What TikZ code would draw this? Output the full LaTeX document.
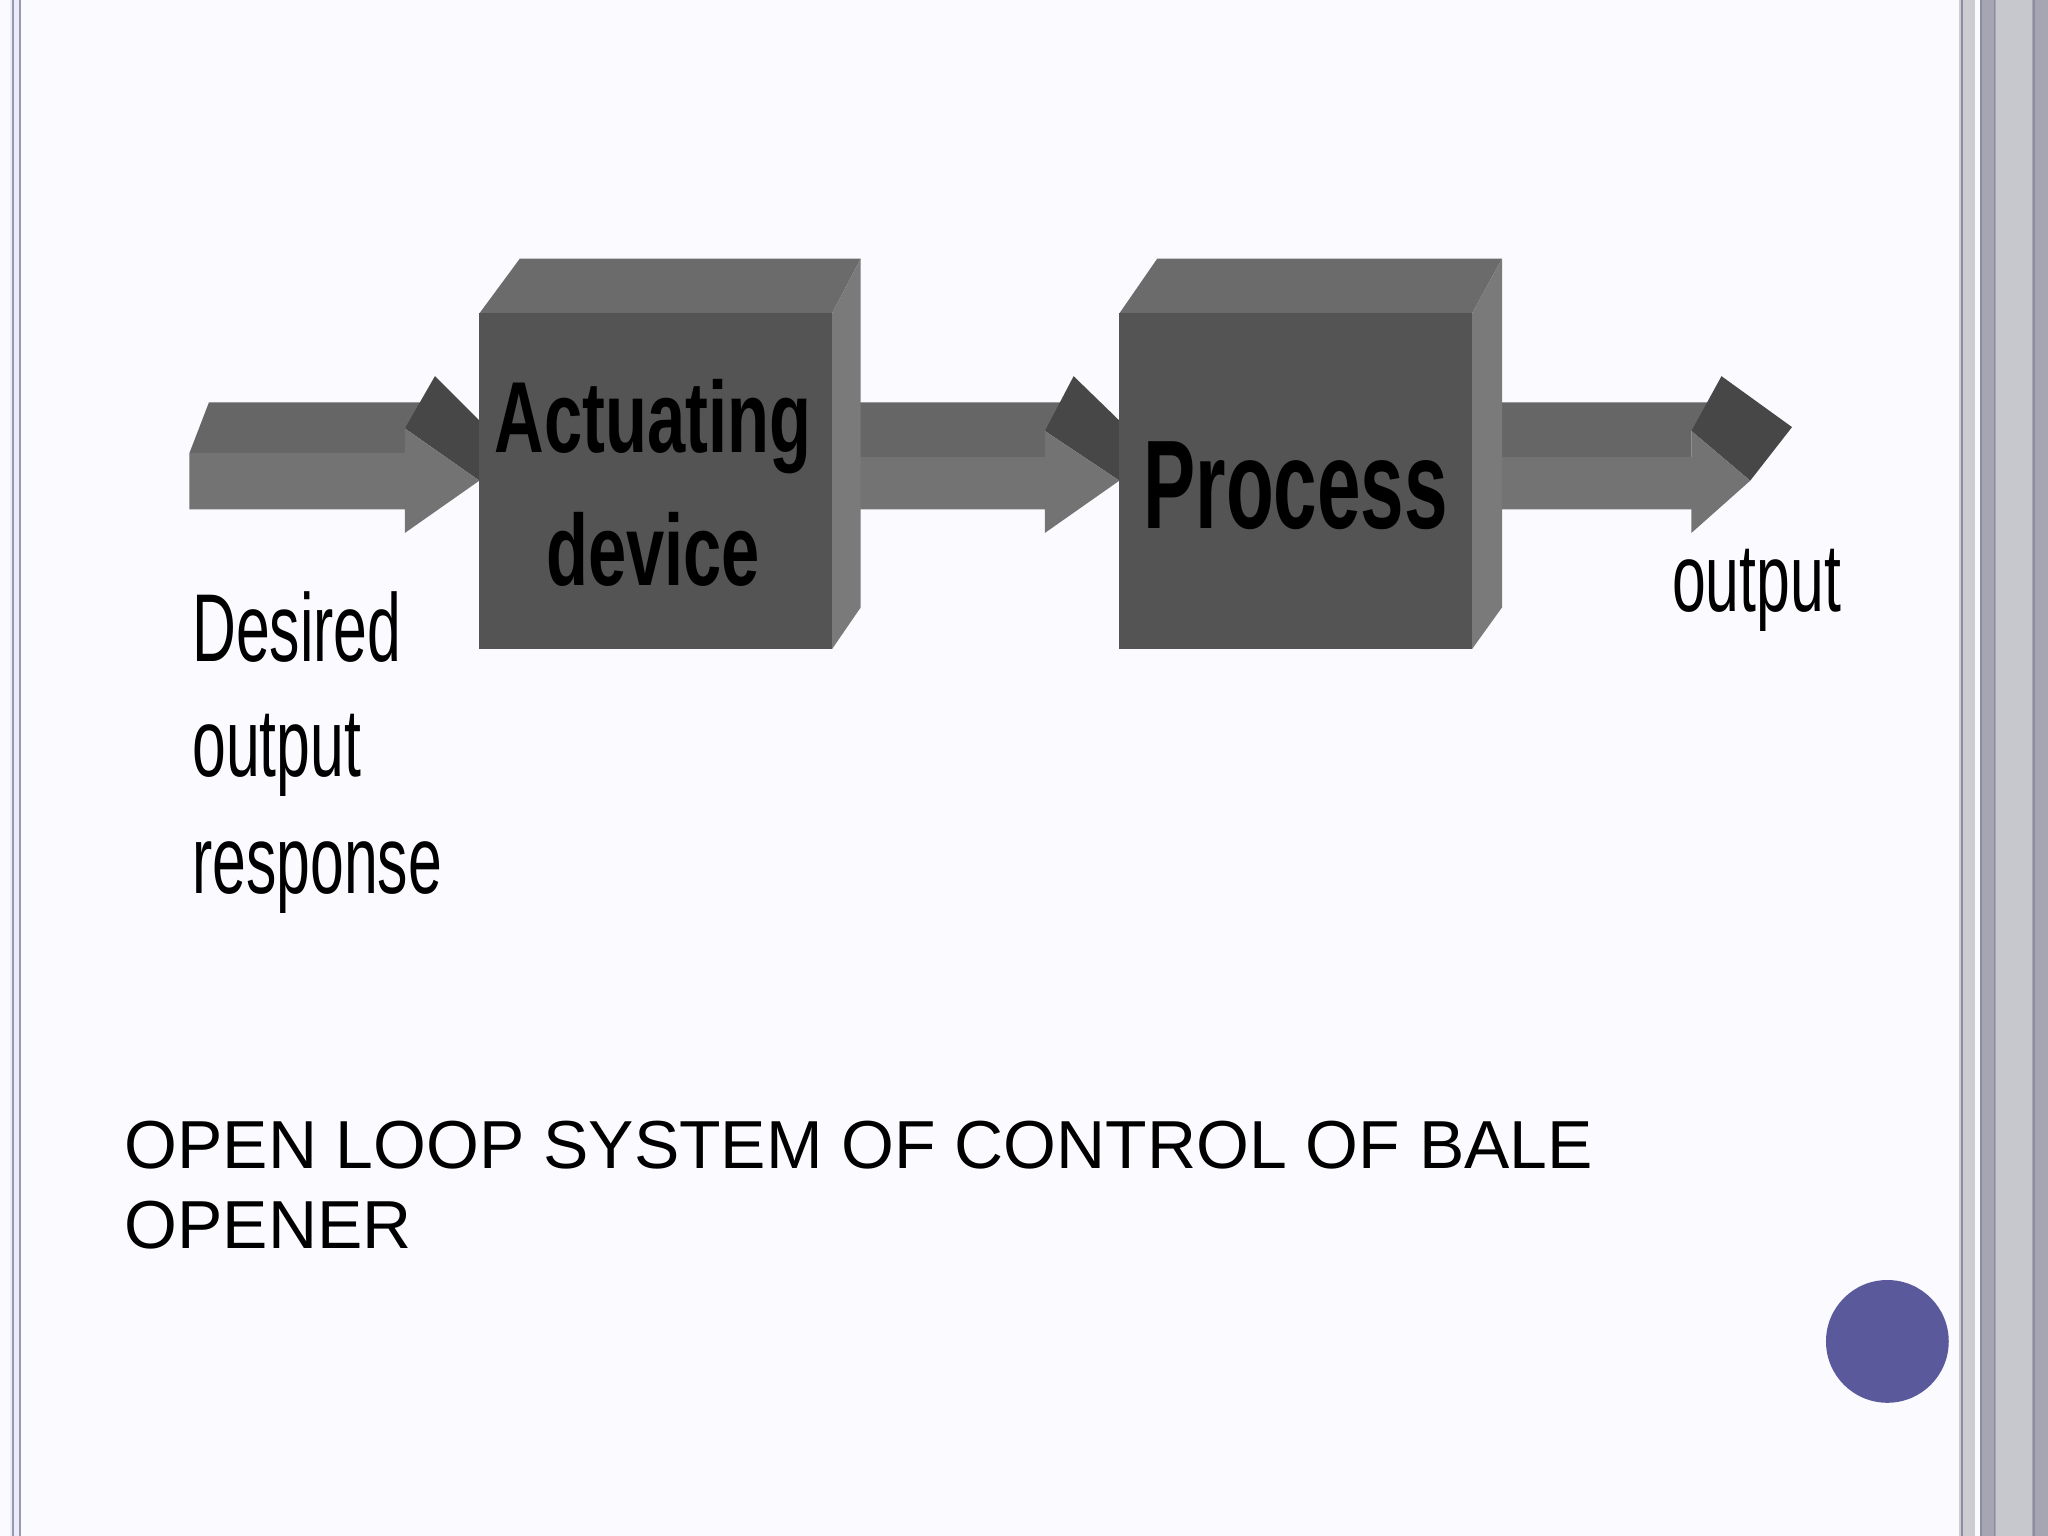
\documentclass[tikz,border=0pt]{standalone}
\usepackage{fontspec}
\setmainfont{Liberation Sans}
\begin{document}
\begin{tikzpicture}[x=0.02cm,y=-0.02cm,
  lbl/.style={font=\fontsize{42}{50}\selectfont, xscale=0.63, anchor=west, inner sep=0},
  boxlbl/.style={font=\bfseries\fontsize{44}{54}\selectfont, xscale=0.68, align=center, inner sep=0},
  title/.style={font=\fontsize{29.6}{35}\selectfont, anchor=north west, align=left, inner sep=0},
  front/.style={fill=black!67}, top/.style={fill=black!58}, side/.style={fill=black!52},
  afront/.style={fill=black!55}, atop/.style={fill=black!60}, ahead/.style={fill=black!72}]
\useasboundingbox (0,0) rectangle (1568,1176);
\fill[white!98!blue] (0,0) rectangle (1568,1176);
% borders
\fill[black!25!blue!8] (8,0) rectangle (16,1176);
\draw[blue!20!black!40,line width=0.8pt] (10,0)--(10,1176) (15,0)--(15,1176);
\fill[blue!10!black!20] (1500,0) rectangle (1512,1176);
\fill[blue!15!black!35] (1516,0) rectangle (1568,1176);
\fill[blue!12!black!22] (1528,0) rectangle (1556,1176);
\draw[blue!20!black!45,line width=0.8pt] (1502,0)--(1502,1176) (1517,0)--(1517,1176) (1527,0)--(1527,1176) (1557,0)--(1557,1176);
% arrow 1
\fill[atop] (145,347)--(160,308)--(325,308)--(310,328)--(310,347)--cycle;
\fill[ahead] (310,328)--(333,288)--(367,322)--(367,368)--cycle;
\fill[afront] (145,347)--(310,347)--(310,328)--(367,368)--(310,408)--(310,390)--(145,390)--cycle;
% arrow 2
\fill[atop] (637,350)--(652,308)--(822,308)--(800,330)--(800,350)--cycle;
\fill[ahead] (800,330)--(822,288)--(857,322)--(857,368)--cycle;
\fill[afront] (637,350)--(800,350)--(800,330)--(857,368)--(800,408)--(800,390)--(637,390)--cycle;
% arrow 3
\fill[atop] (1127,350)--(1142,308)--(1318,308)--(1295,330)--(1295,350)--cycle;
\fill[ahead] (1295,330)--(1318,288)--(1372,327)--(1340,368)--cycle;
\fill[afront] (1127,350)--(1295,350)--(1295,330)--(1340,368)--(1295,408)--(1295,390)--(1127,390)--cycle;
% block 1
\fill[top] (367,240)--(398,198)--(659,198)--(637,240)--cycle;
\fill[side] (637,240)--(659,198)--(659,465)--(637,497)--cycle;
\fill[front] (367,240) rectangle (637,497);
\node[boxlbl] (act) at (500,370) {Actuating\\[4pt]device};
% block 2
\fill[top] (857,240)--(886,198)--(1150,198)--(1127,240)--cycle;
\fill[side] (1127,240)--(1150,198)--(1150,465)--(1127,497)--cycle;
\fill[front] (857,240) rectangle (1127,497);
\node[boxlbl,font=\bfseries\fontsize{55}{60}\selectfont,xscale=0.62/0.68] (proc) at (992,372) {Process};
% labels
\node[lbl] (d1) at (147,480) {Desired};
\node[lbl] (d2) at (147,578) {output};
\node[lbl] (d3) at (147,672) {response};
\node[lbl] (out) at (1280,452) {output};
\node[title] (t) at (95,858) {OPEN LOOP SYSTEM OF CONTROL OF BALE\\OPENER};
\fill[blue!40!black!65] (1445,1027) circle (47);
\end{tikzpicture}
\end{document}
